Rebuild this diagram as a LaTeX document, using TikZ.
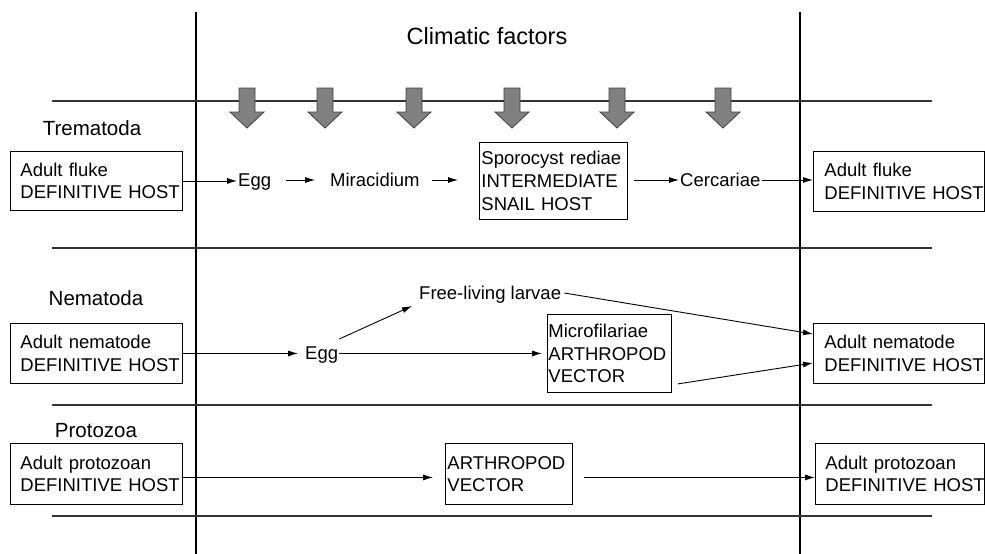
\documentclass[tikz,border=0pt]{standalone}
\usepackage{fontspec}
\setmainfont{Liberation Sans}
\usetikzlibrary{arrows.meta,calc}
\begin{document}
\begin{tikzpicture}[x=1pt,y=-1pt,
  boxtext/.style={font=\fontsize{18.5}{22.6}\selectfont},
  hostbox/.style={draw, line width=0.9pt, boxtext, align=left, anchor=north west, inner ysep=0pt},
  lbl/.style={boxtext, inner sep=1pt, text height=13.5pt, text depth=4pt},
  rowlbl/.style={font=\fontsize{20.5}{24}\selectfont, inner sep=0pt},
  conn/.style={line width=0.9pt, -{Latex[length=10pt,width=6pt]}},
  hline/.style={line width=1.4pt, draw=black!80},
  vline/.style={line width=1.2pt},
  blockarrow/.style={fill=black!50, draw=black!75, line width=0.8pt}
]
\useasboundingbox (0,0) rectangle (985,554);
% grid lines
\draw[vline] (196,11.5) -- (196,554);
\draw[vline] (800,11.5) -- (800,554);
\draw[hline] (52,101) -- (932,101);
\draw[hline] (52,248) -- (932,248);
\draw[hline] (52,405) -- (932,405);
\draw[hline] (52,516) -- (932,516);
% block arrows
\foreach \ax in {247,325,414,512,617,723}{
  \draw[blockarrow] (\ax-8,88) -- (\ax+8,88) -- (\ax+8,112) -- (\ax+17,112) -- (\ax,128) -- (\ax-17,112) -- (\ax-8,112) -- cycle;
}
\node[font=\fontsize{23.5}{28}\selectfont, inner sep=0pt] (clim) at (487,36) {Climatic factors};
% row labels
\node[rowlbl] (trem) at (92,128) {Trematoda};
\node[rowlbl] (nema) at (96,298) {Nematoda};
\node[rowlbl] (prot) at (96,431) {Protozoa};
% Trematoda row
\node[hostbox, minimum width=172pt, minimum height=59pt, text width=152pt, inner xsep=10pt] (lfl) at (10,151) {Adult~fluke\\DEFINITIVE~HOST};
\node[lbl, anchor=west] (egg1) at (237,182) {Egg};
\node[lbl, anchor=west] (mira) at (329,182) {Miracidium};
\node[hostbox, minimum width=148pt, minimum height=77pt, text width=144pt, inner xsep=2pt] (spor) at (479,142) {Sporocyst~rediae\\INTERMEDIATE\\SNAIL~HOST};
\node[lbl, anchor=west] (cerc) at (679,182) {Cercariae};
\node[hostbox, minimum width=171pt, minimum height=60pt, text width=149pt, inner xsep=11pt] (rfl) at (813,151) {Adult~fluke\\DEFINITIVE~HOST};
\draw[conn] (lfl.east) -- (lfl.east -| egg1.west);
\draw[conn, shorten <=14pt, shorten >=14pt] (egg1.east |- 0,180) -- (mira.west |- 0,180);
\draw[conn, shorten <=11pt, shorten >=21pt] (mira.east |- 0,180) -- (spor.west |- 0,180);
\draw[conn, shorten <=6pt] (spor.east |- 0,180) -- (cerc.west |- 0,180);
\draw[conn] (cerc.east |- 0,180) -- (rfl.west |- 0,180);
% Nematoda row
\node[hostbox, minimum width=172pt, minimum height=60pt, text width=152pt, inner xsep=10pt] (lnem) at (10,323) {Adult~nematode\\DEFINITIVE~HOST};
\node[lbl, anchor=west] (egg2) at (304,355) {Egg};
\node[lbl, anchor=west] (free) at (418,295) {Free-living larvae};
\node[hostbox, minimum width=124pt, minimum height=78pt, text width=122pt, inner xsep=1pt] (micr) at (547,314) {Microfilariae\\ARTHROPOD\\VECTOR};
\node[hostbox, minimum width=171pt, minimum height=60pt, text width=149pt, inner xsep=11pt] (rnem) at (813,323) {Adult~nematode\\DEFINITIVE~HOST};
\draw[conn, shorten >=6pt] (lnem.east) -- (lnem.east -| egg2.west);
\draw[conn] ($(egg2.east)+(0,-16)$) -- ($(free.west)+(-6,11)$);
\draw[conn, shorten >=5pt] (egg2.east |- micr.west) -- (micr.west);
\draw[conn] ($(free.east)+(2,-2)$) -- ($(rnem.north west)+(0,11)$);
\draw[conn] ($(micr.south east)+(6,-9)$) -- ($(rnem.north west)+(0,40)$);
% Protozoa row
\node[hostbox, minimum width=172pt, minimum height=61pt, text width=152pt, inner xsep=10pt] (lpro) at (10,443) {Adult~protozoan\\DEFINITIVE~HOST};
\node[hostbox, minimum width=127pt, minimum height=61pt, text width=123pt, inner xsep=2pt] (arth) at (445,443) {ARTHROPOD\\VECTOR};
\node[hostbox, minimum width=169pt, minimum height=61pt, text width=149pt, inner xsep=10pt] (rpro) at (815,443) {Adult~protozoan\\DEFINITIVE~HOST};
\draw[conn, shorten >=12pt] ([yshift=-3.5pt]lpro.east) -- ([yshift=-3.5pt]arth.west);
\draw[conn, shorten <=11pt] ([yshift=-3.5pt]arth.east) -- ([yshift=-3.5pt]rpro.west);
\end{tikzpicture}
\end{document}
